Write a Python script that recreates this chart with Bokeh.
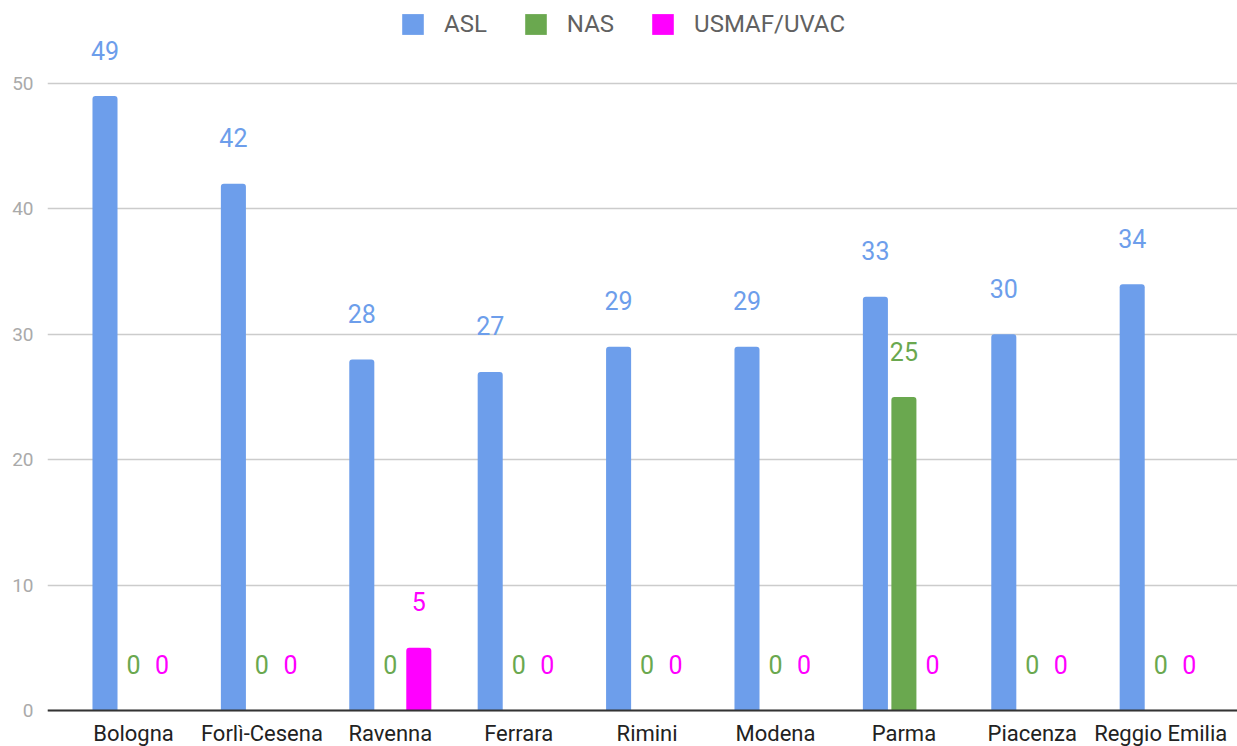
from bokeh.plotting import figure
from bokeh.models import ColumnDataSource, Range1d, FixedTicker, Legend, LegendItem, Span
from bokeh.transform import dodge
from bokeh.core.properties import value
from bokeh.embed import file_html
from bokeh.resources import INLINE

categories = ["Bologna", "Forlì-Cesena", "Ravenna", "Ferrara", "Rimini",
              "Modena", "Parma", "Piacenza", "Reggio Emilia"]
asl = [49, 42, 28, 27, 29, 29, 33, 30, 34]
nas = [0, 0, 0, 0, 0, 0, 25, 0, 0]
usmaf = [0, 0, 5, 0, 0, 0, 0, 0, 0]
series_names = ["ASL", "NAS", "USMAF/UVAC"]
series_colors = ["#6d9eeb", "#6aa84f", "#ff00ff"]
y_ticks = [0, 10, 20, 30, 40, 50]

n = len(categories)
idx = list(range(n))
src = ColumnDataSource(dict(
    x=idx, cat=categories, zero=[0] * n, asl=asl, nas=nas, usmaf=usmaf,
    asl_t=[str(v) for v in asl], nas_t=[str(v) for v in nas], usmaf_t=[str(v) for v in usmaf],
))

FONT = "Roboto"
W, H = 1237, 746
LEFT = 47
PX_PER_CAT = 128.4
PX_PER_UNIT = (710 - 83) / 50.0
x_start = -(133 - LEFT) / PX_PER_CAT
x_end = x_start + (W - LEFT) / PX_PER_CAT
y_start = -(H - 710) / PX_PER_UNIT
y_end = 50 + 83 / PX_PER_UNIT

p = figure(width=W, height=H, output_backend="svg", toolbar_location=None,
           x_range=Range1d(x_start, x_end), y_range=Range1d(y_start, y_end),
           x_axis_location=None,
           min_border_left=LEFT, min_border_right=0, min_border_top=0, min_border_bottom=0)
p.outline_line_color = None
p.background_fill_color = "white"
p.border_fill_color = "white"

fields = ["asl", "nas", "usmaf"]
offsets = [-0.222, 0.0, 0.222]
bw = 0.195
renderers = []
for f, off, col in zip(fields, offsets, series_colors):
    r = p.vbar(x=dodge("x", off), top=f, width=bw, bottom=0, source=src,
               fill_color=col, line_color=None, border_radius=(3, 3, 0, 0))
    renderers.append(r)
    p.text(x=dodge("x", off), y=f, text=f + "_t", source=src,
           text_color=col, text_font=value(FONT), text_font_size="25px",
           text_align="center", text_baseline="alphabetic", y_offset=-46)

# baseline axis line
p.add_layout(Span(location=0, dimension="width", line_color="#333333", line_width=2))

# category labels
p.text(x="x", y="zero", text="cat", source=src, text_color="#222222",
       text_font=value(FONT), text_font_size="22px", text_align="center",
       text_baseline="alphabetic", y_offset=23)

legend = Legend(items=[LegendItem(label=nm, renderers=[r]) for nm, r in zip(series_names, renderers)],
                orientation="horizontal", location=(399 - LEFT, H - 38),
                glyph_width=27, glyph_height=26, label_standoff=18, spacing=35,
                padding=0, margin=0, border_line_color=None, background_fill_alpha=0,
                label_text_font=FONT, label_text_font_size="24px", label_text_color="#616161",
                label_height=26)
p.add_layout(legend, "center")

p.xgrid.grid_line_color = None
p.ygrid.grid_line_color = "#cccccc"
p.ygrid.grid_line_width = 1.5
p.ygrid.ticker = FixedTicker(ticks=y_ticks)

p.yaxis.ticker = FixedTicker(ticks=y_ticks)
p.yaxis.axis_line_color = None
p.yaxis.major_tick_line_color = None
p.yaxis.major_tick_out = 0
p.yaxis.major_tick_in = 0
p.yaxis.minor_tick_line_color = None
p.yaxis.major_label_text_font = FONT
p.yaxis.major_label_text_font_size = "19px"
p.yaxis.major_label_text_color = "#aaaaaa"
p.yaxis.major_label_standoff = 14

open("out.html", "w").write(file_html(p, INLINE))
